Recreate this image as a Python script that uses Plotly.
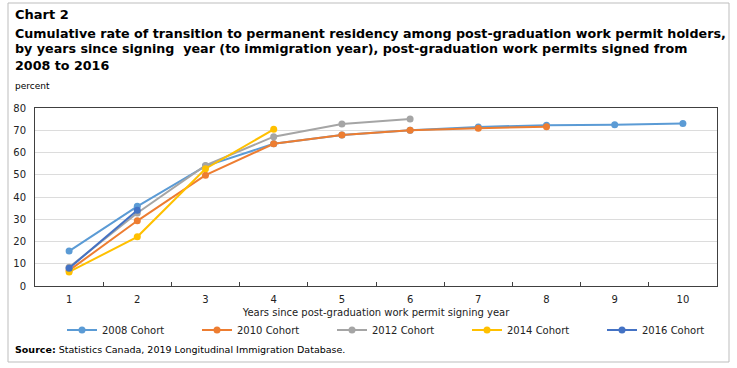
import plotly.graph_objects as go

years = ["1", "2", "3", "4", "5", "6", "7", "8", "9", "10"]
cohort_2008 = [15.7, 35.8, 53.9, 63.9, 67.9, 70.0, 71.5, 72.3, 72.5, 73.0]
cohort_2010 = [7.0, 29.3, 49.8, 63.9, 67.9, 70.0, 70.9, 71.6]
cohort_2012 = [8.4, 32.8, 54.2, 67.1, 72.8, 75.1]
cohort_2014 = [6.3, 22.1, 52.7, 70.4]
cohort_2016 = [8.0, 34.0]
series_names = ["2008 Cohort", "2010 Cohort", "2012 Cohort", "2014 Cohort", "2016 Cohort"]
colors = ["#5B9BD5", "#ED7D31", "#A5A5A5", "#FFC000", "#4472C4"]

W, H = 737, 368
L, R, T, B = 35, 717, 108, 286


def px(x):
    return (x - L) / (R - L)


def py(y):
    return (B - y) / (B - T)


fig = go.Figure()
for name, vals, col in zip(series_names,
                           [cohort_2008, cohort_2010, cohort_2012, cohort_2014, cohort_2016],
                           colors):
    fig.add_trace(go.Scatter(
        x=years[:len(vals)], y=vals, name=name, mode="lines+markers",
        line=dict(color=col, width=2), marker=dict(color=col, size=7),
    ))

font = "DejaVu Sans"
ann = []
ann.append(dict(text="<b>Chart 2</b>", x=px(13), y=py(15), xanchor="left", yanchor="middle",
                font=dict(size=13, color="#000"), showarrow=False, xref="paper", yref="paper"))
title_lines = [
    "Cumulative rate of transition to permanent residency among post-graduation work permit holders,",
    "by years since signing  year (to immigration year), post-graduation work permits signed from",
    "2008 to 2016",
]
for i, t in enumerate(title_lines):
    ann.append(dict(text="<b>" + t + "</b>", x=px(13), y=py(33 + 16 * i), xanchor="left",
                    yanchor="middle", font=dict(size=12.7, color="#000"), showarrow=False,
                    xref="paper", yref="paper"))
ann.append(dict(text="percent", x=px(13), y=py(86), xanchor="left", yanchor="middle",
                font=dict(size=9, color="#000"), showarrow=False, xref="paper", yref="paper"))
ann.append(dict(text="<b>Source:</b> Statistics Canada, 2019 Longitudinal Immigration Database.",
                x=px(13), y=py(349), xanchor="left", yanchor="middle",
                font=dict(size=9.5, color="#000"), showarrow=False, xref="paper", yref="paper"))

fig.update_layout(
    width=W, height=H,
    margin=dict(l=L, r=W - R, t=T, b=H - B, autoexpand=False),
    paper_bgcolor="white", plot_bgcolor="white",
    font=dict(family=font, size=10, color="#222"),
    showlegend=True,
    legend=dict(orientation="h", x=px(62), y=py(330), xanchor="left", yanchor="middle",
                entrywidth=90, entrywidthmode="pixels", font=dict(size=10, color="#222"),
                bgcolor="rgba(0,0,0,0)"),
    annotations=ann,
    shapes=[dict(type="rect", xref="paper", yref="paper",
                 x0=px(8), x1=px(729), y0=py(362), y1=py(3),
                 line=dict(color="#bdbdbd", width=1))],
)
fig.update_xaxes(
    type="category", tickson="boundaries", ticks="inside", ticklen=4, tickcolor="#404040",
    showline=True, linecolor="#404040", linewidth=1, mirror=True, showgrid=False,
    title=dict(text="Years since post-graduation work permit signing year", standoff=4,
               font=dict(size=10)),
    tickfont=dict(size=10), range=[-0.5, 9.5], ticklabelstandoff=4,
)
fig.update_yaxes(
    range=[0, 80], dtick=10, showline=True, linecolor="#404040", linewidth=1, mirror=True,
    showgrid=True, gridcolor="#dcdcdc", gridwidth=1, zeroline=False, ticks="",
    tickfont=dict(size=10), ticklabelstandoff=6,
)

fig.write_html("out.html", config={"displayModeBar": False},
               post_script="document.body.style.margin='0';")
